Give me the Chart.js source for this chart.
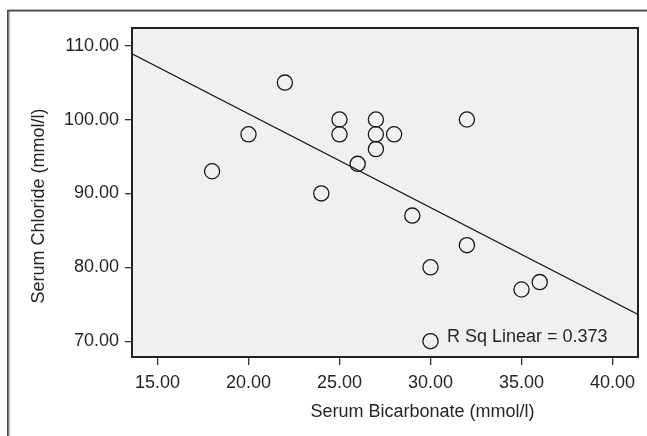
<!DOCTYPE html>
<html>
<head>
<meta charset="utf-8">
<script src="https://cdn.jsdelivr.net/npm/chart.js@4/dist/chart.umd.min.js"></script>
<style>
  html, body { margin: 0; padding: 0; background: #ffffff; }
  #wrap { width: 647px; height: 436px; }
</style>
</head>
<body>
<div id="wrap"><canvas id="c" width="647" height="436"></canvas></div>
<script>
// ---- Data ----
const bicarbonate = [18, 20, 22, 24, 25, 25, 26, 27, 27, 27, 28, 29, 30, 30, 32, 32, 35, 36];
const chloride    = [93, 98, 105, 90, 100, 98, 94, 100, 98, 96, 98, 87, 80, 70, 100, 83, 77, 78];
const xTicks = [15, 20, 25, 30, 35, 40];
const yTicks = [70, 80, 90, 100, 110];
const xTitle = 'Serum Bicarbonate (mmol/l)';
const yTitle = 'Serum Chloride (mmol/l)';
const rSqLabel = 'R Sq Linear = 0.373';
const xRange = [13.6, 41.4];
const yRange = [67.86, 112.39];

// ---- Least-squares fit line from the data ----
const n = bicarbonate.length;
const mx = bicarbonate.reduce((a, b) => a + b, 0) / n;
const my = chloride.reduce((a, b) => a + b, 0) / n;
let sxy = 0, sxx = 0;
for (let i = 0; i < n; i++) {
  sxy += (bicarbonate[i] - mx) * (chloride[i] - my);
  sxx += (bicarbonate[i] - mx) ** 2;
}
const slope = sxy / sxx;
const intercept = my - slope * mx;
const fitLine = xRange.map(x => ({ x: x, y: intercept + slope * x }));

const points = bicarbonate.map((x, i) => ({ x: x, y: chloride[i] }));

const FONT = "'Liberation Sans', Arial, sans-serif";
const TXT = '#262626';

const decor = {
  id: 'decor',
  beforeDraw(chart) {
    const { ctx, chartArea: a } = chart;
    ctx.save();
    ctx.fillStyle = '#ffffff';
    ctx.fillRect(0, 0, chart.width, chart.height);
    // outer frame (top + left)
    ctx.fillStyle = '#b8b8b8';
    ctx.fillRect(7, 9, 640, 1);
    ctx.fillRect(9, 10, 1, chart.height - 10);
    ctx.fillStyle = '#4a4a4a';
    ctx.fillRect(7, 10, 640, 1.5);
    ctx.fillRect(7, 10, 1.7, chart.height - 10);
    // plot background
    ctx.fillStyle = '#eff0f2';
    ctx.fillRect(a.left, a.top, a.right - a.left, a.bottom - a.top);
    ctx.restore();
  },
  afterDraw(chart) {
    const { ctx, chartArea: a } = chart;
    ctx.save();
    ctx.strokeStyle = '#222222';
    ctx.lineWidth = 2;
    ctx.strokeRect(a.left, a.top, a.right - a.left, a.bottom - a.top);
    ctx.fillStyle = TXT;
    ctx.font = '18px ' + FONT;
    ctx.textBaseline = 'alphabetic';
    ctx.textAlign = 'center';
    ctx.fillText(xTitle, 422.5, 416.5);
    ctx.save();
    ctx.translate(44, 206);
    ctx.rotate(-Math.PI / 2);
    ctx.fillText(yTitle, 0, 0);
    ctx.restore();
    ctx.textAlign = 'left';
    ctx.fillText(rSqLabel, 447, 341.5);
    ctx.restore();
  }
};

new Chart(document.getElementById('c'), {
  type: 'scatter',
  data: {
    datasets: [
      {
        type: 'line',
        data: fitLine,
        borderColor: '#1a1a1a',
        borderWidth: 1.2,
        pointRadius: 0,
        fill: false,
        tension: 0
      },
      {
        data: points,
        pointStyle: 'circle',
        pointRadius: 7.6,
        pointBorderWidth: 1.3,
        borderColor: '#1a1a1a',
        backgroundColor: 'rgba(0,0,0,0)',
        pointBackgroundColor: 'rgba(0,0,0,0)'
      }
    ]
  },
  options: {
    responsive: false,
    animation: false,
    events: [],
    layout: { padding: { left: 0, top: 28, right: 9, bottom: 0 } },
    plugins: { legend: { display: false }, tooltip: { enabled: false } },
    scales: {
      x: {
        type: 'linear',
        position: 'bottom',
        min: xRange[0],
        max: xRange[1],
        afterBuildTicks: s => { s.ticks = xTicks.map(v => ({ value: v })); },
        afterFit: s => { s.height = 79; },
        border: { display: false },
        grid: { display: true, drawOnChartArea: false, drawTicks: true, tickLength: 8, color: '#333333', lineWidth: 1.3 },
        ticks: {
          color: TXT,
          font: { family: FONT, size: 18 },
          padding: 7,
          maxRotation: 0,
          autoSkip: false,
          callback: v => Number(v).toFixed(2)
        }
      },
      y: {
        type: 'linear',
        position: 'left',
        min: yRange[0],
        max: yRange[1],
        afterBuildTicks: s => { s.ticks = yTicks.map(v => ({ value: v })); },
        afterFit: s => { s.width = 132; },
        border: { display: false },
        grid: { display: true, drawOnChartArea: false, drawTicks: true, tickLength: 7, color: '#333333', lineWidth: 1.3 },
        ticks: {
          color: TXT,
          font: { family: FONT, size: 18 },
          padding: 6,
          autoSkip: false,
          callback: v => Number(v).toFixed(2)
        }
      }
    }
  },
  plugins: [decor]
});
</script>
</body>
</html>
